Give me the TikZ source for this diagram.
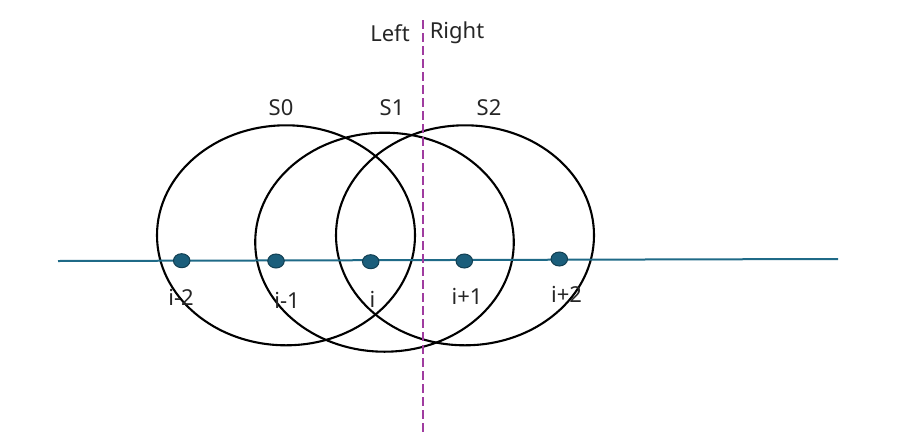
\documentclass[tikz,border=0pt]{standalone}
\usepackage{fontspec}
\setmainfont{Noto Sans}
\usetikzlibrary{shapes.geometric}
\definecolor{lineblue}{HTML}{1F6A87}
\definecolor{dotfill}{HTML}{1B5E7B}
\definecolor{dotedge}{HTML}{123F52}
\definecolor{divider}{HTML}{A03CA0}
\begin{document}
\begin{tikzpicture}[x=1pt,y=-1pt,
  ring/.style={draw=black,line width=2.1pt},
  pt/.style={ellipse,draw=dotedge,fill=dotfill,line width=1pt,minimum width=16.5pt,minimum height=14pt,inner sep=0pt},
  lbl/.style={font=\fontsize{22}{26}\selectfont,text=black!85,inner sep=0pt,anchor=center}]
\useasboundingbox (0,0) rectangle (901,434);
% ellipses
\draw[ring] (286,235.3) ellipse [x radius=129, y radius=110];
\draw[ring] (384.5,242.2) ellipse [x radius=129.3, y radius=109.5];
\draw[ring] (465,235.3) ellipse [x radius=129, y radius=110];
% axis
\coordinate (la) at (58,261);
\coordinate (lb) at (838,259);
\draw[lineblue,line width=2pt] (la) -- (lb);
% divider
\coordinate (da) at (423,20);
\coordinate (db) at (423,434);
\draw[divider,line width=2.3pt,dash pattern=on 9pt off 4pt] (da) -- (db);
% points
\node[pt] (p1) at (181.7,260.7) {};
\node[pt] (p2) at (276,261) {};
\node[pt] (p3) at (370.7,261.7) {};
\node[pt] (p4) at (464.3,261) {};
\node[pt] (p5) at (559.3,259) {};
% labels
\node[lbl] (t1) at (181,297) {i-2};
\node[lbl] (t2) at (287,300) {i-1};
\node[lbl] (t3) at (372.5,299) {i};
\node[lbl] (t4) at (467,296) {i+1};
\node[lbl] (t5) at (566.5,294) {i+2};
\node[lbl] (s0) at (281,108) {S0};
\node[lbl] (s1) at (392,108) {S1};
\node[lbl] (s2) at (489,108) {S2};
\node[lbl] (lf) at (390,33) {Left};
\node[lbl] (rt) at (457,33) {Right};
\end{tikzpicture}
\end{document}
